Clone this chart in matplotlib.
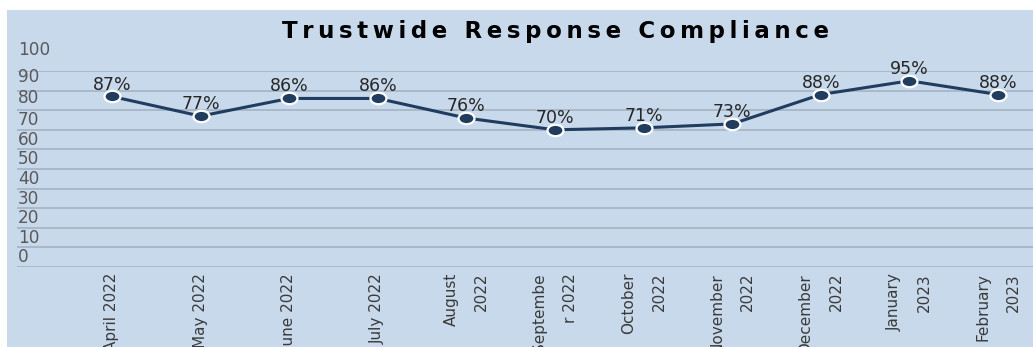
import matplotlib
matplotlib.use("Agg")
import matplotlib.pyplot as plt
from matplotlib.path import Path
from matplotlib.patches import Rectangle
from matplotlib.transforms import Affine2D, blended_transform_factory, offset_copy

# monthly compliance figures
months = ["April 2022", "May 2022", "June 2022", "July 2022", "August\n2022",
          "Septembe\nr 2022", "October\n2022", "November\n2022", "December\n2022",
          "January\n2023", "February\n2023"]
compliance = [87, 77, 86, 86, 76, 70, 71, 73, 88, 95, 88]
y_ticks = [0, 10, 20, 30, 40, 50, 60, 70, 80, 90, 100]
title = "Trustwide Response Compliance"

BG = "#c8d9ec"
GRID = "#a7b6c7"
LINE = "#203d5f"

W, H = 1033, 347
fig = plt.figure(figsize=(W / 100, H / 100), dpi=100, facecolor="white")
fig.patches.append(Rectangle((7 / W, 0), 1, 1 - 10 / H, transform=fig.transFigure,
                             facecolor=BG, edgecolor="none", zorder=-5))

ax = fig.add_axes([17 / W, 1 - 267 / H, 1 - 17 / W, (267 - 71) / H])
ax.set_facecolor("none")
for s in ax.spines.values():
    s.set_visible(False)

x = list(range(len(months)))
ellipse = Path.unit_circle().transformed(Affine2D().scale(1.4, 1.0))
ax.plot(x, compliance, color=LINE, lw=2.2, marker=ellipse, markersize=11.5,
        markerfacecolor=LINE, markeredgecolor="white", markeredgewidth=1.6,
        zorder=3, clip_on=False)

for xi, v in zip(x, compliance):
    ax.annotate(f"{v}%", (xi, v), xytext=(0, 5), textcoords="offset points",
                ha="center", va="baseline", fontsize=12.5, color="#262626", zorder=4)

ax.set_xlim(-1.072, 10.395)
ax.set_ylim(0, 100)
ax.set_yticks(y_ticks)
ax.set_yticklabels([])
ax.tick_params(axis="y", length=0)
ax.grid(axis="y", color=GRID, lw=1.3)
ax.set_axisbelow(True)

# y labels sit just above their gridlines
lift = [4.5] * 8 + [7.5, 9, 16]
base = blended_transform_factory(ax.transAxes, ax.transData)
for v, d in zip(y_ticks, lift):
    tr = offset_copy(base, fig=fig, x=1, y=d, units="dots")
    ax.text(0, v, str(v), transform=tr, ha="left", va="baseline",
            fontsize=12.2, color="#595959")

ax.set_xticks(x)
ax.set_xticklabels(months, rotation=90, ha="center", va="top",
                   multialignment="right", linespacing=2.3,
                   fontsize=11, color="#3a3a3a")
ax.tick_params(axis="x", length=0, pad=4.3)

fig.text(555 / W, 1 - 38 / H, "\u2009".join(title), ha="center", va="baseline",
         fontsize=16.5, fontweight="bold", color="black")

fig.savefig("out.png", dpi=100, facecolor=fig.get_facecolor())
